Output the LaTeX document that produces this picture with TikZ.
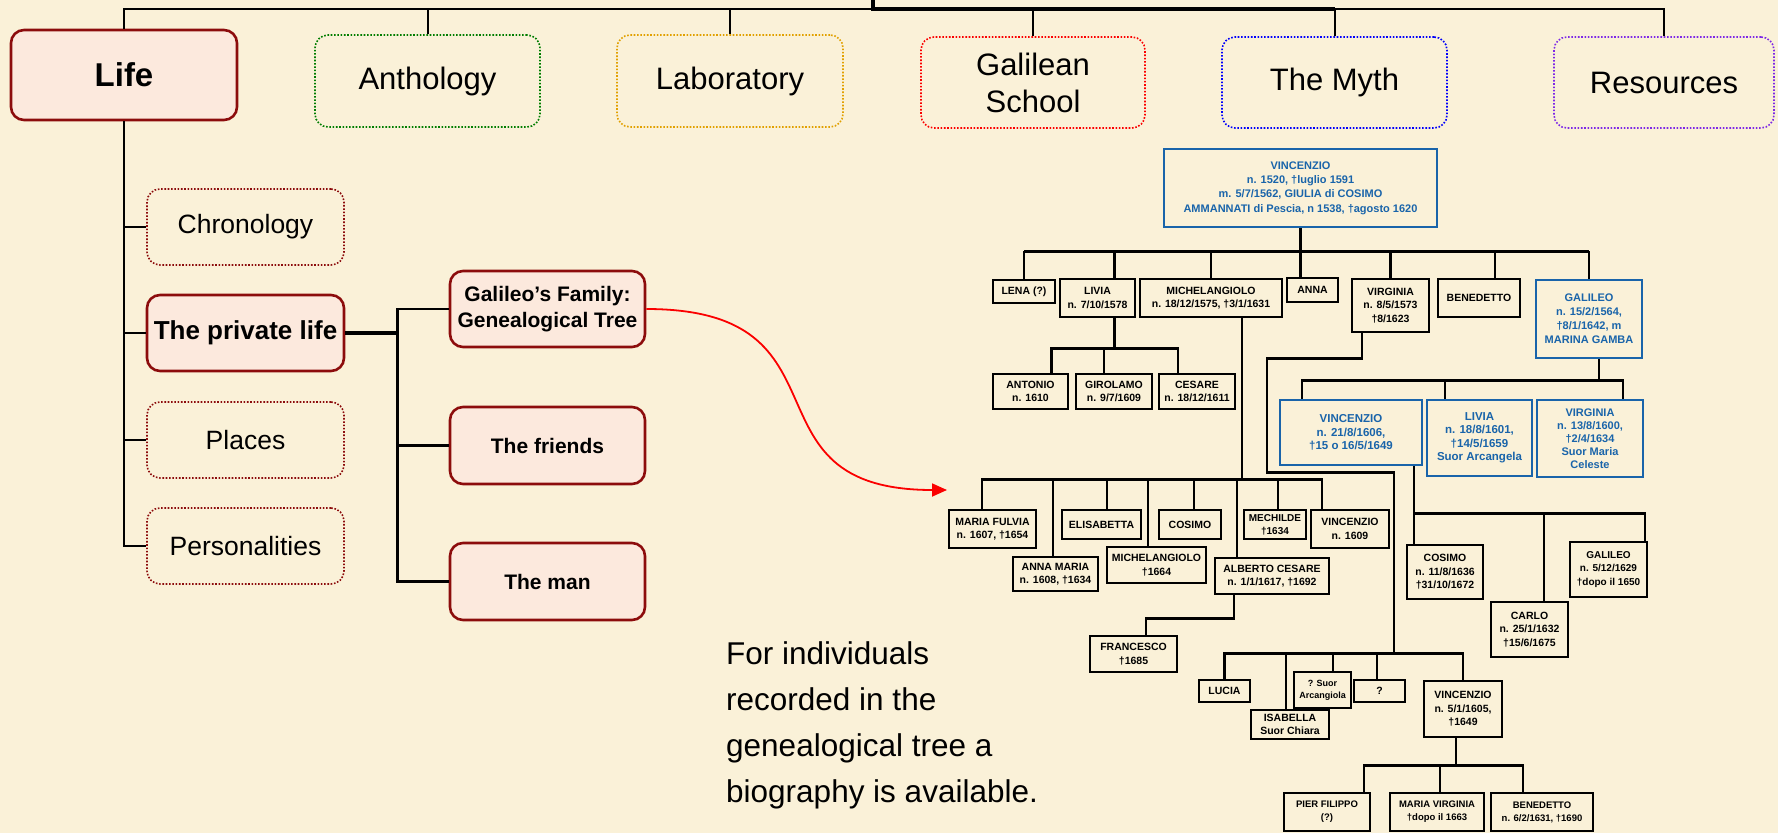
\documentclass[tikz,border=0pt]{standalone}
\usepackage{fontspec}
\setmainfont{Liberation Sans}
\usetikzlibrary{calc,arrows.meta}
\definecolor{bgc}{RGB}{250,241,216}
\definecolor{pinkfill}{RGB}{252,233,221}
\definecolor{dred}{RGB}{140,12,12}
\definecolor{navgreen}{RGB}{0,125,0}
\definecolor{navorange}{RGB}{225,160,0}
\definecolor{navred}{RGB}{250,0,0}
\definecolor{navblue}{RGB}{0,0,250}
\definecolor{navpurple}{RGB}{125,40,230}
\definecolor{tblue}{RGB}{25,100,170}
\newcommand\fsz[2]{\fontsize{#1}{#2}\selectfont}
\begin{document}
\begin{tikzpicture}[x=1pt,y=-1pt,
  bxat/.style args={#1/#2/#3/#4}{at={({(#1+#3)/2},{(#2+#4)/2})}, minimum width={(#3)-(#1)}, minimum height={(#4)-(#2)}},
  solidbox/.style={draw=dred, line width=2.6pt, fill=pinkfill, rounded corners=13pt, inner sep=0pt, align=center},
  dotbox/.style={draw=#1, line width=1.6pt, dash pattern=on 1.6pt off 1.7pt, rounded corners=13pt, inner sep=0pt, align=center},
  navfont/.style={font=\fsz{31}{37}},
  leftfont/.style={font=\fsz{26.5}{30}},
  subfont/.style={font=\bfseries\fsz{21}{26}},
  navline/.style={line width=2pt, draw=black},
  navthick/.style={line width=4.5pt, draw=black},
  lline/.style={line width=2.4pt, draw=black},
  tbox/.style={draw=black, line width=2.4pt, inner sep=0pt, align=center, font=\bfseries\fsz{10.5}{13.5}},
  bbox/.style={draw=tblue, line width=2.8pt, text=tblue, inner sep=0pt, align=center, font=\bfseries\fsz{11.5}{13.5}},
  tline/.style={line width=2.6pt, draw=black},
]
\useasboundingbox (0,0) rectangle (1778,833);
\fill[bgc] (0,0) rectangle (1778,833);

% ---------- top navigation ----------
\node[solidbox, bxat=11/30/237/120, font=\bfseries\fsz{33}{38}] (life) {Life};
\node[dotbox=navgreen, navfont, bxat=315/35/540/127] (anth) {Anthology};
\node[dotbox=navorange, navfont, bxat=617/35/843/127] (lab) {Laboratory};
\node[dotbox=navred, navfont, bxat=921/37/1145/128] (gal) {Galilean\\School};
\node[dotbox=navblue, navfont, bxat=1222/37/1447/128] (myth) {The Myth};
\node[dotbox=navpurple, navfont, bxat=1554/37/1774/128] (res) {Resources};
\coordinate (topjoin) at (873,9);
\coordinate (topin) at (873,0);
\draw[navline] (life.north) |- (res.north |- topjoin) -- (res.north);
\foreach \n in {anth,lab,gal,myth} \draw[navline] (\n.north) -- (\n.north |- topjoin);
\draw[navthick] (topin) -- (topjoin) -- (myth.north |- topjoin);

% ---------- Life sub menu ----------
\node[dotbox=dred, leftfont, bxat=147/189/344/265] (chron) {Chronology};
\node[solidbox, font=\bfseries\fsz{26}{30}, bxat=147/295/344/371] (priv) {The private life};
\node[dotbox=dred, leftfont, bxat=147/402/344/478] (places) {Places};
\node[dotbox=dred, leftfont, bxat=147/508/344/584] (pers) {Personalities};
\draw[lline] (life.south) |- (pers.west);
\foreach \n in {chron,priv,places} \draw[lline] (\n.west) -- (\n.west -| life.south);

\node[solidbox, subfont, bxat=450/271/645/347] (fam) {Galileo’s Family:\\Genealogical Tree};
\node[solidbox, subfont, bxat=450/407/645/484] (friends) {The friends};
\node[solidbox, subfont, bxat=450/543/645/620] (man) {The man};
\draw[line width=3.6pt] (priv.east) -- ++(52,0) coordinate (pj);
\draw[lline] (fam.west) -| (pj) |- (man.west);
\draw[lline] (friends.west) -- (friends.west -| pj);

\coordinate (arrtip) at (947,490);
\draw[navred, line width=1.8pt, -{Triangle[length=15pt,width=13pt]}] (fam.east) .. controls (860,309) and (735,490) .. (arrtip);

\node[anchor=north west, align=left, inner sep=0pt, font=\fsz{31.5}{46}] (note) at (726,641) {For individuals\\recorded in the\\genealogical tree a\\biography is available.};

% ---------- genealogical tree ----------
\node[bbox, font=\bfseries\fsz{11}{14.3}, bxat=1164/149/1437/227] (vtop) {VINCENZIO\\n. 1520, †luglio 1591\\m. 5/7/1562, GIULIA di COSIMO\\AMMANNATI di Pescia, n 1538, †agosto 1620};

\node[tbox, bxat=993/280/1055/303] (lena) {LENA (?)};
\node[tbox, bxat=1060/279/1135/317] (livia) {LIVIA\\n. 7/10/1578};
\node[tbox, bxat=1140/279/1282/317] (mich) {MICHELANGIOLO\\n. 18/12/1575, †3/1/1631};
\node[tbox, bxat=1287/278/1338/302] (anna) {ANNA};
\node[tbox, bxat=1352/279/1429/332] (virg) {VIRGINIA\\n. 8/5/1573\\†8/1623};
\node[tbox, bxat=1438/279/1520/317] (bene) {BENEDETTO};
\node[bbox, font=\bfseries\fsz{11}{14}, bxat=1536/280/1642/358] (gali) {GALILEO\\n. 15/2/1564,\\†8/1/1642, m\\MARINA GAMBA};

\node[tbox, bxat=993/374/1068/409] (anto) {ANTONIO\\n. 1610};
\node[tbox, bxat=1076/374/1152/409] (giro) {GIROLAMO\\n. 9/7/1609};
\node[tbox, bxat=1159/374/1235/409] (cesa) {CESARE\\n. 18/12/1611};

\node[bbox, bxat=1280/400/1422/465] (vgam) {VINCENZIO\\n. 21/8/1606,\\†15 o 16/5/1649};
\node[bbox, bxat=1427/400/1532/476] (lgam) {LIVIA\\n. 18/8/1601,\\†14/5/1659\\Suor Arcangela};
\node[bbox, font=\bfseries\fsz{11}{13}, bxat=1537/400/1643/477] (vgir) {VIRGINIA\\n. 13/8/1600,\\†2/4/1634\\Suor Maria\\Celeste};

\node[tbox, bxat=949/510/1036/548] (mful) {MARIA FULVIA\\n. 1607, †1654};
\node[tbox, bxat=1062/510/1141/539] (elis) {ELISABETTA};
\node[tbox, bxat=1159/510/1221/539] (cosi) {COSIMO};
\node[tbox, font=\bfseries\fsz{10}{13}, bxat=1244/510/1306/539] (mech) {MECHILDE\\†1634};
\node[tbox, bxat=1311/510/1389/548] (vin3) {VINCENZIO\\n. 1609};
\node[tbox, bxat=1013/557/1098/591] (anma) {ANNA MARIA\\n. 1608, †1634};
\node[tbox, bxat=1107/547/1206/583] (mic2) {MICHELANGIOLO\\†1664};
\node[tbox, bxat=1215/558/1329/594] (albe) {ALBERTO CESARE\\n. 1/1/1617, †1692};
\node[tbox, bxat=1090/636/1177/672] (fran) {FRANCESCO\\†1685};

\node[tbox, bxat=1407/545/1483/599] (cosg) {COSIMO\\n. 11/8/1636\\†31/10/1672};
\node[tbox, bxat=1491/602/1568/657] (carg) {CARLO\\n. 25/1/1632\\†15/6/1675};
\node[tbox, font=\bfseries\fsz{10}{13.5}, bxat=1570/542/1647/597] (galg) {GALILEO\\n. 5/12/1629\\†dopo il 1650};

\node[tbox, bxat=1199/680/1250/702] (luci) {LUCIA};
\node[tbox, font=\bfseries\fsz{9}{12}, bxat=1294/672/1351/708] (sarc) {? Suor\\Arcangiola};
\node[tbox, bxat=1354/680/1405/702] (qm) {?};
\node[tbox, bxat=1251/710/1329/739] (isab) {ISABELLA\\Suor Chiara};
\node[tbox, bxat=1424/681/1502/737] (vlan) {VINCENZIO\\n. 5/1/1605,\\†1649};

\node[tbox, font=\bfseries\fsz{9.5}{13}, bxat=1284/793/1370/831] (pier) {PIER FILIPPO\\(?)};
\node[tbox, font=\bfseries\fsz{9.5}{13}, bxat=1390/793/1484/831] (mvir) {MARIA VIRGINIA\\†dopo il 1663};
\node[tbox, font=\bfseries\fsz{9.5}{13}, bxat=1491/793/1593/831] (ben2) {BENEDETTO\\n. 6/2/1631, †1690};

% connectors: Vincenzio's children
\path (vtop.south) ++(0,23) coordinate (b1);
\draw[tline] (vtop.south) -- (vtop.south |- anna.north);
\draw[tline] (lena.north |- b1) -- (gali.north |- b1);
\path ([xshift=17pt]livia.north) coordinate (livD);
\path ([xshift=16pt]bene.north) coordinate (benD);
\draw[tline] (lena.north) -- (lena.north |- b1);
\draw[tline] (livD) -- (livD |- b1);
\draw[tline] (mich.north) -- (mich.north |- b1);
\draw[tline] (virg.north) -- (virg.north |- b1);
\draw[tline] (benD) -- (benD |- b1);
\draw[tline] (gali.north) -- (gali.north |- b1);

% Livia's children
\path ([xshift=17pt]livia.south) coordinate (livS);
\path (livS) ++(0,30) coordinate (b2);
\path ([xshift=21pt]anto.north) coordinate (antD);
\path ([xshift=-10pt]giro.north) coordinate (girD);
\path ([xshift=-19pt]cesa.north) coordinate (cesD);
\draw[tline] (livS) -- (b2);
\draw[tline] (antD) |- (cesD |- b2) -- (cesD);
\draw[tline] (girD) -- (girD |- b2);

% Michelangiolo's children
\path ([xshift=31pt]mich.south) coordinate (micS);
\path (micS) ++(0,161) coordinate (b3);
\path ([xshift=-10.5pt]mful.north) coordinate (mfuD);
\path ([xshift=5.5pt]elis.north) coordinate (eliD);
\path ([xshift=4pt]cosi.north) coordinate (cosD);
\path ([xshift=3pt]mech.north) coordinate (mecD);
\path ([xshift=-28pt]vin3.north) coordinate (vi3D);
\path ([xshift=-2.5pt]anma.north) coordinate (anmD);
\path ([xshift=-8.5pt]mic2.north) coordinate (mi2D);
\path ([xshift=-35pt]albe.north) coordinate (albD);
\draw[tline] (micS) -- (b3);
\draw[tline] (mfuD) |- (vi3D |- b3) -- (vi3D);
\foreach \c in {eliD,cosD,mecD,anmD,mi2D,albD} \draw[tline] (\c) -- (\c |- b3);

% Alberto Cesare -> Francesco
\path ([xshift=-38pt]albe.south) coordinate (albS);
\path ([xshift=12.5pt]fran.north) coordinate (fraD);
\draw[tline] (albS) -- ++(0,23) -| (fraD);

% Virginia -> Landucci children
\path ([xshift=-28.5pt]virg.south) coordinate (virS);
\draw[tline] (virS) -- ++(0,25) -- ++(-95,0) -- ++(0,114) -- ++(127,0) -- ++(0,181) coordinate (b5);
\draw[tline] (luci.north) |- (vlan.north |- b5) -- (vlan.north);
\path ([xshift=-4pt]isab.north) coordinate (isaD);
\path ([xshift=10.5pt]sarc.north) coordinate (sarD);
\path ([xshift=-2.5pt]qm.north) coordinate (qmD);
\foreach \c in {isaD,sarD,qmD} \draw[tline] (\c) -- (\c |- b5);

% Vincenzio Landucci -> children
\path ([xshift=-7pt]vlan.south) coordinate (vlaS);
\draw[tline] (vlaS) -- ++(0,27) coordinate (b6);
\path ([xshift=37pt]pier.north) coordinate (pieD);
\path ([xshift=3pt]mvir.north) coordinate (mviD);
\path ([xshift=-19pt]ben2.north) coordinate (be2D);
\draw[tline] (pieD) |- (be2D |- b6) -- (be2D);
\draw[tline] (mviD) -- (mviD |- b6);

% Galileo -> children
\path ([xshift=10pt]gali.south) coordinate (galS);
\draw[tline] (galS) -- ++(0,21) coordinate (b4);
\path ([xshift=-49pt]vgam.north) coordinate (vgaD);
\path ([xshift=-34.5pt]lgam.north) coordinate (lgaD);
\path ([xshift=33pt]vgir.north) coordinate (vgiD);
\draw[tline] (vgaD) |- (vgiD |- b4) -- (vgiD);
\draw[tline] (lgaD) -- (lgaD |- b4);

% Vincenzio Gamba -> children
\path ([xshift=63pt]vgam.south) coordinate (vgaS);
\path ([xshift=-31pt]cosg.north) coordinate (cogD);
\path ([xshift=14.5pt]carg.north) coordinate (carD);
\path ([xshift=36.5pt]galg.north) coordinate (glgD);
\draw[tline] (vgaS) -- (cogD);
\path (vgaS) ++(0,47) coordinate (b7);
\draw[tline] (b7) -| (glgD);
\draw[tline] (carD) -- (carD |- b7);
\end{tikzpicture}
\end{document}
